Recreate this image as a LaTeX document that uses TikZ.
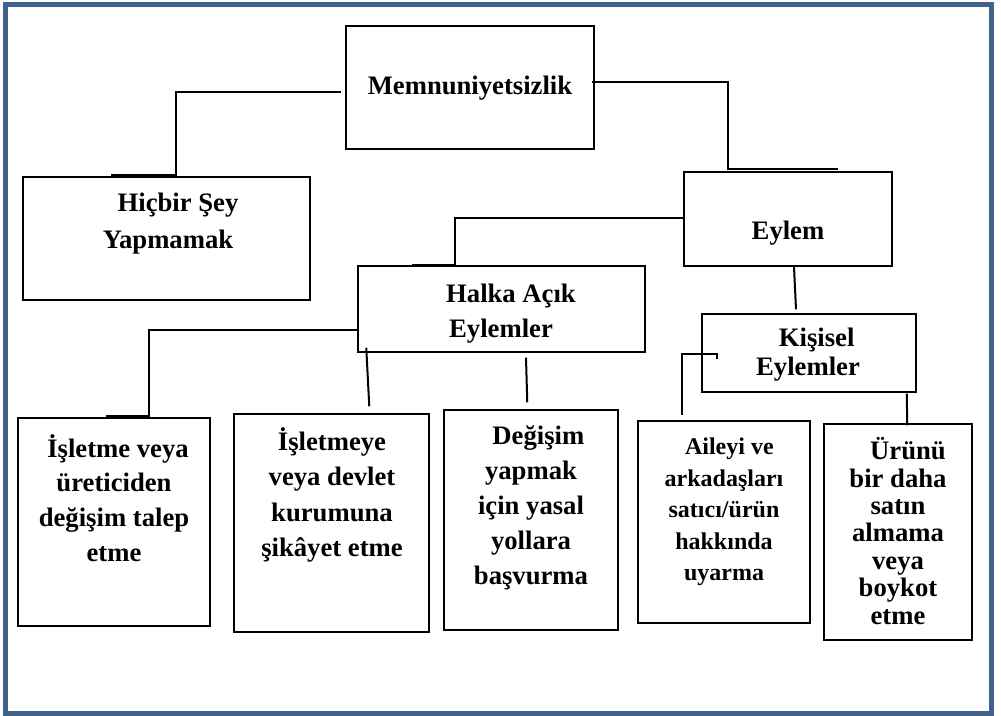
\documentclass[tikz,border=0pt]{standalone}
\usepackage{fontspec}
\setmainfont{Liberation Serif}
\usetikzlibrary{calc,fit}

\begin{document}
\begin{tikzpicture}[x=0.75pt,y=-0.75pt]

    % renkler
    \definecolor{cerceve}{RGB}{64,98,142}

    % stiller
    \tikzset{
        kutu/.style={draw=black, line width=1.1pt, inner sep=0pt},
        bag/.style={draw=black, line width=1.5pt},
        yazi/.style 2 args={font=\bfseries\fontsize{#1}{#2}\selectfont, align=center, inner sep=0pt}
    }

    % kutu: sol üst ve sağ alt köşe (piksel)
    \newcommand{\kutu}[5]{%
        \node[kutu, fit={(#2,#3) (#4,#5)}] (#1) {};
    }

    % sayfa ve çerçeve
    \useasboundingbox (0,0) rectangle (1001,716);
    \fill[white] (0,0) rectangle (1001,716);
    \draw[cerceve, line width=3.75pt] (5.5,4.5) rectangle (991.5,714);

    % --- kutular ---
    \kutu{memnun}{346}{26}{594}{149}
    \kutu{hicbir}{23}{177}{310}{300}
    \kutu{eylem}{684}{172}{892}{266}
    \kutu{halka}{358}{266}{645}{352}
    \kutu{kisisel}{702}{314}{916}{392}
    \kutu{isletme}{18}{418}{210}{626}
    \kutu{sikayet}{234}{414}{429}{632}
    \kutu{hukuk}{444}{410}{618}{630}
    \kutu{aile}{638}{421}{810}{623}
    \kutu{boykot}{824}{424}{972}{640}

    % --- yazılar ---
    \node[yazi={20}{26}] (memnun-y) at (470,88) {Memnuniyetsizlik};
    \node[yazi={20}{27.75}] (hicbir-y) at (168,224) {\hspace*{15pt}Hiçbir Şey\\Yapmamak};
    \node[yazi={20}{26}] (eylem-y) at (788,233) {Eylem};
    \node[yazi={20}{26.25}] (halka-y) at (501,314) {\hspace*{15pt}Halka Açık\\Eylemler};
    \node[yazi={20}{21.75}] (kisisel-y) at (808,355) {\hspace*{13pt}Kişisel\\Eylemler};
    \node[yazi={20}{26}] (isletme-y) at (114,498) {\hspace*{6pt}İşletme veya\\üreticiden\\değişim talep\\etme};
    \node[yazi={20}{26.5}] (sikayet-y) at (332,495) {İşletmeye\\veya devlet\\kurumuna\\şikâyet etme};
    \node[yazi={20}{26.25}] (hukuk-y) at (531,508) {\hspace*{11pt}Değişim\\yapmak\\için yasal\\yollara\\başvurma};
    \node[yazi={18}{23.6}] (aile-y) at (724,512) {\hspace*{8pt}Aileyi ve\\arkadaşları\\satıcı/ürün\\hakkında\\uyarma};
    \node[yazi={20}{20.6}] (boykot-y) at (898,531) {\hspace*{15pt}Ürünü\\bir daha\\satın\\almama\\veya\\boykot\\etme};

    % --- bağlantılar ---
    \draw[bag] ($(memnun.west)+(-4,4.5)$) -| ($(hicbir.north west)+(154,-1)$) -- ($(hicbir.north west)+(89,-1)$);
    \draw[bag] ($(memnun.east)+(-3,-5.5)$) -| ($(eylem.north west)+(45,-2)$) -- ($(eylem.north west)+(155,-2)$);
    \draw[bag] ($(eylem.west)+(0,-1)$) -| ($(halka.north west)+(98,0)$) -- ($(halka.north west)+(55,0)$);
    \draw[bag] ($(eylem.south)+(6,0)$) -- ($(kisisel.north)+(-13,-4)$);

    \draw[bag] ($(halka.west)+(0,21)$) -| ($(isletme.north west)+(132,-1)$) -- ($(isletme.north west)+(89,-1)$);
    \draw[bag] ($(halka.south west)+(9,-5)$) -- ($(sikayet.north west)+(136,-7)$);
    \draw[bag] ($(halka.south)+(24.5,5)$) -- ($(hukuk.north west)+(84,-7)$);

    \draw[bag] ($(kisisel.north west)+(16,46)$) -- ++(0,-5) -| ($(aile.north west)+(45,-5)$);
    \draw[bag] ($(kisisel.south east)+(-10,1)$) -- ($(boykot.north west)+(84,2)$);

\end{tikzpicture}
\end{document}
